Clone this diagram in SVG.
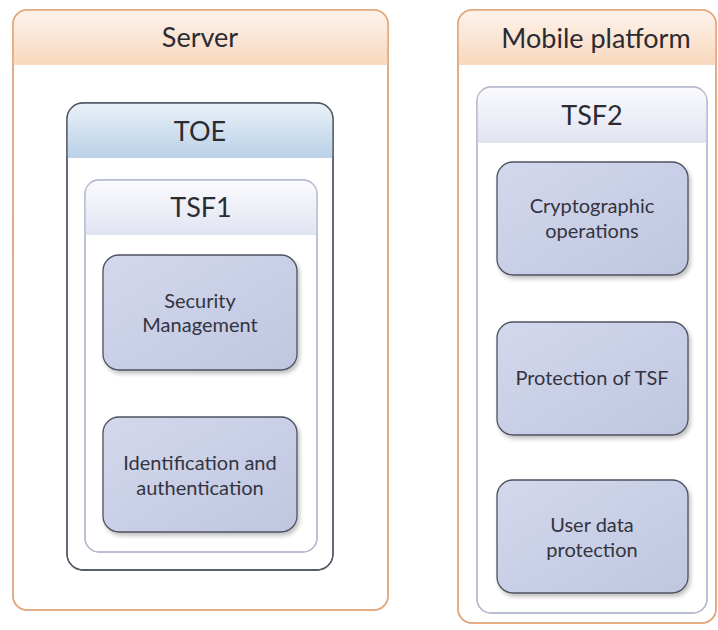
<svg xmlns="http://www.w3.org/2000/svg" width="718" height="630" viewBox="0 0 718 630">
<defs>
<linearGradient id="gOrange" x1="0" y1="0" x2="0" y2="1"><stop offset="0" stop-color="#fdf3ec"/><stop offset="1" stop-color="#f9d8bd"/></linearGradient>
<linearGradient id="gBlue" x1="0" y1="0" x2="0" y2="1"><stop offset="0" stop-color="#eaf1f8"/><stop offset="1" stop-color="#b9d1e7"/></linearGradient>
<linearGradient id="gLav" x1="0" y1="0" x2="0" y2="1"><stop offset="0" stop-color="#fbfbfe"/><stop offset="1" stop-color="#e0e4f1"/></linearGradient>
<linearGradient id="gBox" x1="0" y1="0" x2="1" y2="1"><stop offset="0" stop-color="#d3d8ec"/><stop offset="1" stop-color="#bfc6e0"/></linearGradient>
<filter id="sh" x="-10%" y="-10%" width="130%" height="130%"><feGaussianBlur in="SourceAlpha" stdDeviation="2"/><feOffset dx="2" dy="3"/><feComponentTransfer><feFuncA type="linear" slope="0.25"/></feComponentTransfer><feMerge><feMergeNode/><feMergeNode in="SourceGraphic"/></feMerge></filter>
<clipPath id="cServer"><rect x="13" y="10" width="375" height="600" rx="14"/></clipPath>
<clipPath id="cMobile"><rect x="458" y="10" width="258" height="613" rx="14"/></clipPath>
<clipPath id="cToe"><rect x="67" y="103" width="266" height="467" rx="16"/></clipPath>
<clipPath id="cTsf1"><rect x="85" y="180" width="232" height="372" rx="14"/></clipPath>
<clipPath id="cTsf2"><rect x="477" y="87" width="230" height="526" rx="14"/></clipPath>
</defs>
<style>
text{font-family:"Lato","Open Sans","Liberation Sans",sans-serif;fill:#2b2b33;text-anchor:middle}
.h{font-size:27px}
.b{font-size:20px;fill:#33343f}
.outer{fill:#fff;stroke:#e2a77c;stroke-width:1.5}
.toe{fill:#fff;stroke:#4f5562;stroke-width:1.3}
.tsf{fill:#fff;stroke:#b4b9cb;stroke-width:1.3}
.box{fill:url(#gBox);stroke:#4d5160;stroke-width:1.3}
</style>
<g id="server">
<rect class="outer" x="13" y="10" width="375" height="600" rx="14"/>
<rect x="13" y="10" width="375" height="55" fill="url(#gOrange)" clip-path="url(#cServer)"/>
<rect x="13" y="10" width="375" height="600" rx="14" fill="none" stroke="#e2a77c" stroke-width="1.5"/>
<text class="h" x="200" y="47">Server</text>
</g>
<g id="toe">
<rect class="toe" x="67" y="103" width="266" height="467" rx="16"/>
<rect x="67" y="103" width="266" height="55" fill="url(#gBlue)" clip-path="url(#cToe)"/>
<rect x="67" y="103" width="266" height="467" rx="16" fill="none" stroke="#4f5562" stroke-width="1.3"/>
<text class="h" x="200" y="141">TOE</text>
</g>
<g id="tsf1">
<rect class="tsf" x="85" y="180" width="232" height="372" rx="14"/>
<rect x="85" y="180" width="232" height="55" fill="url(#gLav)" clip-path="url(#cTsf1)"/>
<rect x="85" y="180" width="232" height="372" rx="14" fill="none" stroke="#b4b9cb" stroke-width="1.3"/>
<text class="h" x="201" y="217">TSF1</text>
</g>
<g id="security-management">
<rect class="box" x="103" y="255" width="194" height="115" rx="16" filter="url(#sh)"/>
<text class="b" x="200" y="308">Security</text>
<text class="b" x="200" y="332">Management</text>
</g>
<g id="identification">
<rect class="box" x="103" y="417" width="194" height="115" rx="16" filter="url(#sh)"/>
<text class="b" x="200" y="470">Identification and</text>
<text class="b" x="200" y="495">authentication</text>
</g>
<g id="mobile-platform">
<rect class="outer" x="458" y="10" width="258" height="613" rx="14"/>
<rect x="458" y="10" width="258" height="55" fill="url(#gOrange)" clip-path="url(#cMobile)"/>
<rect x="458" y="10" width="258" height="613" rx="14" fill="none" stroke="#e2a77c" stroke-width="1.5"/>
<text class="h" x="596" y="48">Mobile platform</text>
</g>
<g id="tsf2">
<rect class="tsf" x="477" y="87" width="230" height="526" rx="14"/>
<rect x="477" y="87" width="230" height="56" fill="url(#gLav)" clip-path="url(#cTsf2)"/>
<rect x="477" y="87" width="230" height="526" rx="14" fill="none" stroke="#b4b9cb" stroke-width="1.3"/>
<text class="h" x="592" y="125">TSF2</text>
</g>
<g id="cryptographic-operations">
<rect class="box" x="497" y="162" width="191" height="113" rx="16" filter="url(#sh)"/>
<text class="b" x="592" y="213">Cryptographic</text>
<text class="b" x="592" y="238">operations</text>
</g>
<g id="protection-of-tsf">
<rect class="box" x="497" y="322" width="191" height="113" rx="16" filter="url(#sh)"/>
<text class="b" x="592" y="385">Protection of TSF</text>
</g>
<g id="user-data-protection">
<rect class="box" x="497" y="480" width="191" height="113" rx="16" filter="url(#sh)"/>
<text class="b" x="592" y="532">User data</text>
<text class="b" x="592" y="557">protection</text>
</g>
<g id="connectors"/>
</svg>
